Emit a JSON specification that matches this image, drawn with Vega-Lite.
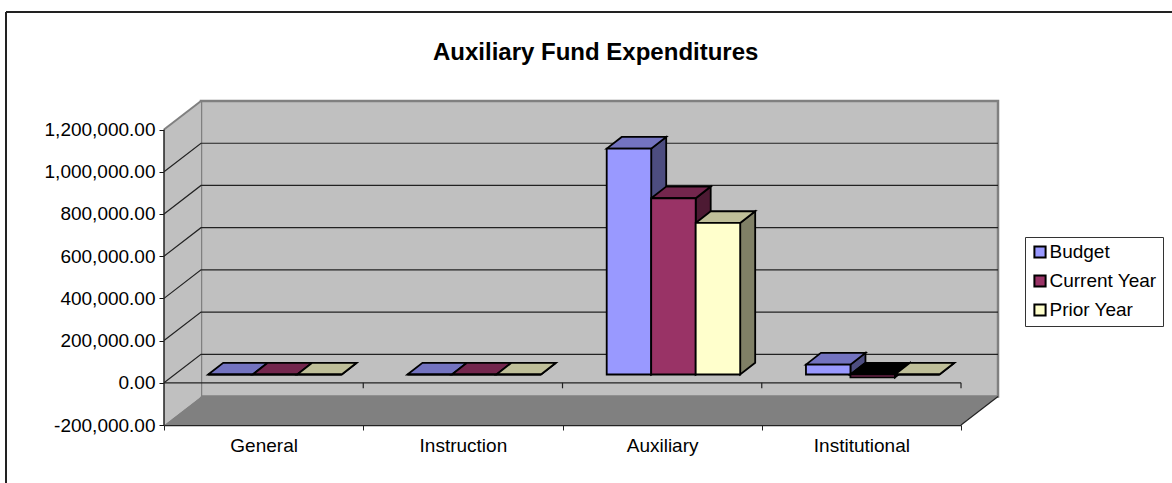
{
"$schema":"https://vega.github.io/schema/vega-lite/v6.json",
"width":1166,"height":471,
"autosize":{"type":"none"},
"padding":{"left":6,"top":12,"right":0,"bottom":0},
"background":"white",
"title":{"text":"Auxiliary Fund Expenditures","font":"Liberation Sans","fontSize":24,"fontWeight":"bold","color":"black","anchor":"start","offset":-54,"dx":427,"frame":"group"},
"config":{"view":{"stroke":null},"font":"Liberation Sans"},
"datasets":{
"bars":[
{"category":"General","series":"Budget","value":0},
{"category":"General","series":"Current Year","value":0},
{"category":"General","series":"Prior Year","value":0},
{"category":"Instruction","series":"Budget","value":0},
{"category":"Instruction","series":"Current Year","value":0},
{"category":"Instruction","series":"Prior Year","value":0},
{"category":"Auxiliary","series":"Budget","value":1070000},
{"category":"Auxiliary","series":"Current Year","value":835000},
{"category":"Auxiliary","series":"Prior Year","value":718000},
{"category":"Institutional","series":"Budget","value":47000},
{"category":"Institutional","series":"Current Year","value":-14000},
{"category":"Institutional","series":"Prior Year","value":0}
],
"ticks":[{"tick":0},{"tick":200000},{"tick":400000},{"tick":600000},{"tick":800000},{"tick":1000000}],
"one":[{}]
},
"resolve":{"scale":{"x":"independent","color":"independent"}},
"layer":[
{
"layer":[
{"data":{"name":"one"},"mark":{"type":"rect","fill":"#C0C0C0","stroke":"#808080","strokeWidth":2.5},
 "encoding":{"x":{"datum":0.1857,"type":"quantitative","axis":null,"scale":{"domain":[-0.793,5.0589],"nice":false,"zero":false}},"x2":{"datum":4.1857},
 "y":{"datum":1335000,"type":"quantitative","scale":{"domain":[-474700,1756760],"nice":false,"zero":false},
  "axis":{"title":null,"orient":"left","offset":-158,"values":[-200000,0,200000,400000,600000,800000,1000000,1200000],"labelExpr":"replace(format(datum.value,',.2f'),'\u2212','-')","grid":false,"domain":false,"tickColor":"#111","tickSize":5,"labelFont":"Liberation Sans","labelFontSize":19,"labelColor":"black","labelPadding":4,"labelFlush":false,"labelOverlap":false}},
 "y2":{"datum":-65000}}},
{"data":{"values":[{"p":0,"y":1200000,"y2":-200000},{"p":0.1857,"y":1335000,"y2":-65000}]},
 "mark":{"type":"area","color":"#C0C0C0"},
 "encoding":{"x":{"field":"p","type":"quantitative"},"y":{"field":"y","type":"quantitative"},"y2":{"field":"y2"}}},
{"data":{"values":[{"p":0,"y":-200000,"y2":-200000},{"p":0.1857,"y":-65000,"y2":-200000},{"p":4,"y":-65000,"y2":-200000},{"p":4.1857,"y":-65000,"y2":-65000}]},
 "mark":{"type":"area","color":"#808080"},
 "encoding":{"x":{"field":"p","type":"quantitative"},"y":{"field":"y","type":"quantitative"},"y2":{"field":"y2"}}},
{"data":{"name":"one"},"mark":{"type":"rule","color":"#808080","strokeWidth":2},
 "encoding":{"x":{"datum":0,"type":"quantitative"},"x2":{"datum":0.1857},"y":{"datum":1200000,"type":"quantitative"},"y2":{"datum":1335000}}},
{"data":{"name":"ticks"},
 "transform":[{"calculate":"[0,1,2]","as":"pts"},{"flatten":["pts"]},{"calculate":"[0,0.1857,4.1857][datum.pts]","as":"px"},{"calculate":"datum.tick+(datum.pts>0?135000:0)","as":"py"}],
 "mark":{"type":"line","color":"#222","strokeWidth":1.2},
 "encoding":{"x":{"field":"px","type":"quantitative"},"y":{"field":"py","type":"quantitative"},"detail":{"field":"tick"}}},
{"data":{"name":"one"},"mark":{"type":"rule","color":"#222","strokeWidth":1.2},
 "encoding":{"x":{"datum":4,"type":"quantitative"},"x2":{"datum":4.1857},"y":{"datum":-200000,"type":"quantitative"},"y2":{"datum":-65000}}},
{"data":{"name":"one"},"mark":{"type":"rule","color":"#222","strokeWidth":1.2},
 "encoding":{"x":{"datum":0,"type":"quantitative"},"x2":{"datum":4},"y":{"datum":0,"type":"quantitative"}}},
{"data":{"name":"one"},"mark":{"type":"rule","color":"#222","strokeWidth":1.5},
 "encoding":{"x":{"datum":0,"type":"quantitative"},"y":{"datum":-200000,"type":"quantitative"},"y2":{"datum":1200000}}},
{"data":{"values":[{"b":1},{"b":2},{"b":3},{"b":4}]},
 "mark":{"type":"rule","color":"#222","strokeWidth":1.2},
 "encoding":{"x":{"field":"b","type":"quantitative"},"y":{"datum":0,"type":"quantitative"},"y2":{"datum":-26000}}},
{"data":{"name":"one"},"mark":{"type":"rule","color":"#222","strokeWidth":2},
 "encoding":{"x":{"datum":-0.793,"type":"quantitative"}}},
{"data":{"name":"one"},"mark":{"type":"rule","color":"#222","strokeWidth":2},
 "encoding":{"y":{"datum":1756760,"type":"quantitative"}}}
]
},
{
"data":{"name":"bars"},
"transform":[
{"calculate":"indexof(['General','Instruction','Auxiliary','Institutional'],datum.category)+0.2218+indexof(['Budget','Current Year','Prior Year'],datum.series)*0.2233","as":"x0"},
{"calculate":"max(datum.value,0)+39300","as":"yt"},
{"calculate":"min(datum.value,0)+39300","as":"yb"},
{"calculate":"[0,1]","as":"pts"},{"flatten":["pts"]},
{"calculate":"datum.x0+0.2233+datum.pts*0.0753","as":"sx"},
{"calculate":"datum.yt+datum.pts*55400","as":"sy"},
{"calculate":"datum.yb+datum.pts*55400","as":"sy2"}
],
"mark":{"type":"area","stroke":"black","strokeWidth":1.8,"strokeJoin":"miter"},
"encoding":{
"x":{"field":"sx","type":"quantitative","axis":null,"scale":{"domain":[-0.793,5.0589],"nice":false,"zero":false}},
"y":{"field":"sy","type":"quantitative"},"y2":{"field":"sy2"},
"detail":[{"field":"category"},{"field":"series"}],
"color":{"field":"series","type":"nominal","legend":null,"scale":{"domain":["Budget","Current Year","Prior Year"],"range":["#4D4D80","#4D1A33","#808066"]}}
}
},
{
"data":{"name":"bars"},
"transform":[
{"calculate":"indexof(['General','Instruction','Auxiliary','Institutional'],datum.category)+0.2218+indexof(['Budget','Current Year','Prior Year'],datum.series)*0.2233","as":"x0"},
{"calculate":"max(datum.value,0)+39300","as":"yt"},
{"calculate":"[0,1,2,3]","as":"pts"},{"flatten":["pts"]},
{"calculate":"datum.x0+[0,0.0753,0.2233,0.2986][datum.pts]","as":"tx"},
{"calculate":"datum.yt+(datum.pts>0?55400:0)","as":"ty"},
{"calculate":"datum.yt+(datum.pts>2?55400:0)","as":"ty2"}
],
"mark":{"type":"area","stroke":"black","strokeWidth":1.8,"strokeJoin":"miter"},
"encoding":{
"x":{"field":"tx","type":"quantitative","axis":null,"scale":{"domain":[-0.793,5.0589],"nice":false,"zero":false}},
"y":{"field":"ty","type":"quantitative"},"y2":{"field":"ty2"},
"detail":[{"field":"category"},{"field":"series"}],
"color":{"condition":{"test":"datum.value<0","value":"black"},"field":"series","type":"nominal","legend":null,"scale":{"domain":["Budget","Current Year","Prior Year"],"range":["#7373C0","#73264D","#BFBF99"]}}
}
},
{
"data":{"name":"bars"},
"transform":[
{"calculate":"indexof(['General','Instruction','Auxiliary','Institutional'],datum.category)+0.2218+indexof(['Budget','Current Year','Prior Year'],datum.series)*0.2233","as":"x0"},
{"calculate":"datum.x0+0.2233","as":"x1"},
{"calculate":"max(datum.value,0)+39300","as":"yt"},
{"calculate":"min(datum.value,0)+39300","as":"yb"}
],
"mark":{"type":"rect","stroke":"black","strokeWidth":1.8},
"encoding":{
"x":{"field":"x0","type":"quantitative","axis":null,"scale":{"domain":[-0.793,5.0589],"nice":false,"zero":false}},
"x2":{"field":"x1"},
"y":{"field":"yt","type":"quantitative"},"y2":{"field":"yb"},
"color":{"field":"series","type":"nominal","title":null,"scale":{"domain":["Budget","Current Year","Prior Year"],"range":["#9999FF","#993366","#FFFFCC"]},
"legend":{"orient":"none","legendX":1019,"legendY":225,"title":null,"symbolType":"square","symbolSize":125,"symbolStrokeColor":"black","symbolStrokeWidth":2,"symbolOpacity":1,"labelFont":"Liberation Sans","labelFontSize":19,"labelColor":"black","labelLimit":200,"strokeColor":"#333","fillColor":"white","padding":5.5,"rowPadding":8,"columnPadding":4,"labelOffset":0}}
}
},
{
"data":{"name":"bars"},
"mark":{"type":"rule","opacity":0},
"encoding":{
"x":{"field":"category","type":"nominal","sort":["General","Instruction","Auxiliary","Institutional"],"title":null,
"scale":{"type":"band","domain":["General","Instruction","Auxiliary","Institutional"],"range":[158,955],"paddingInner":0,"paddingOuter":0},
"axis":{"orient":"bottom","offset":-58,"tickBand":"extent","labelAngle":0,"domainColor":"#222","domainWidth":1.5,"tickColor":"#222","tickSize":5,"labelFont":"Liberation Sans","labelFontSize":19,"labelColor":"black","labelPadding":6,"grid":false}}
}
}
]
}
